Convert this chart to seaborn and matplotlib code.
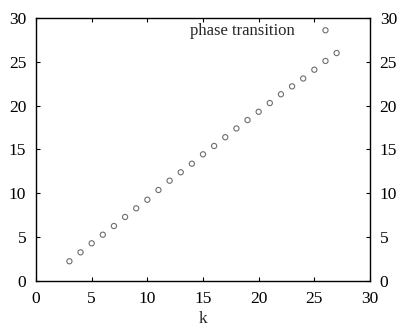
import matplotlib
matplotlib.use("Agg")
import matplotlib.pyplot as plt
import seaborn as sns
import pandas as pd

k = list(range(3, 28))
values = [2.25, 3.27, 4.3, 5.28, 6.27, 7.3, 8.29, 9.27, 10.38, 11.44, 12.4, 13.38,
          14.45, 15.4, 16.4, 17.4, 18.36, 19.3, 20.3, 21.3, 22.2, 23.1, 24.1, 25.1, 26.0]
transition_k = [26]
transition_val = [28.6]
x_ticks = [0, 5, 10, 15, 20, 25, 30]
y_ticks = [0, 5, 10, 15, 20, 25, 30]

sns.set_style("ticks")
plt.rcParams['font.family'] = ['Liberation Serif', 'DejaVu Serif']

df = pd.DataFrame({"k": k + transition_k, "v": values + transition_val})

fig = plt.figure(figsize=(4.01, 3.30), dpi=100)
ax = fig.add_axes([0.0898, 0.1485, 0.8329, 0.797])
sns.scatterplot(data=df, x="k", y="v", ax=ax, marker="o", s=14,
                facecolor="none", edgecolor="#6e6e6e", linewidth=0.8)
ax.set_xlim(0, 30)
ax.set_ylim(0, 30)
ax.set_xticks(x_ticks)
ax.set_yticks(y_ticks)
ax.tick_params(direction="in", length=3, width=0.8, top=True, right=True,
               labelright=True, labelsize=12.5, pad=7, colors="black")
for s in ax.spines.values():
    s.set_linewidth(1.0)
    s.set_color("black")
ax.set_xlabel("k", fontsize=12.5, labelpad=3)
ax.set_ylabel("")
ax.text(23.2, 28.5, "phase transition", ha="right", va="center", fontsize=12)
fig.savefig("out.png", dpi=100)
